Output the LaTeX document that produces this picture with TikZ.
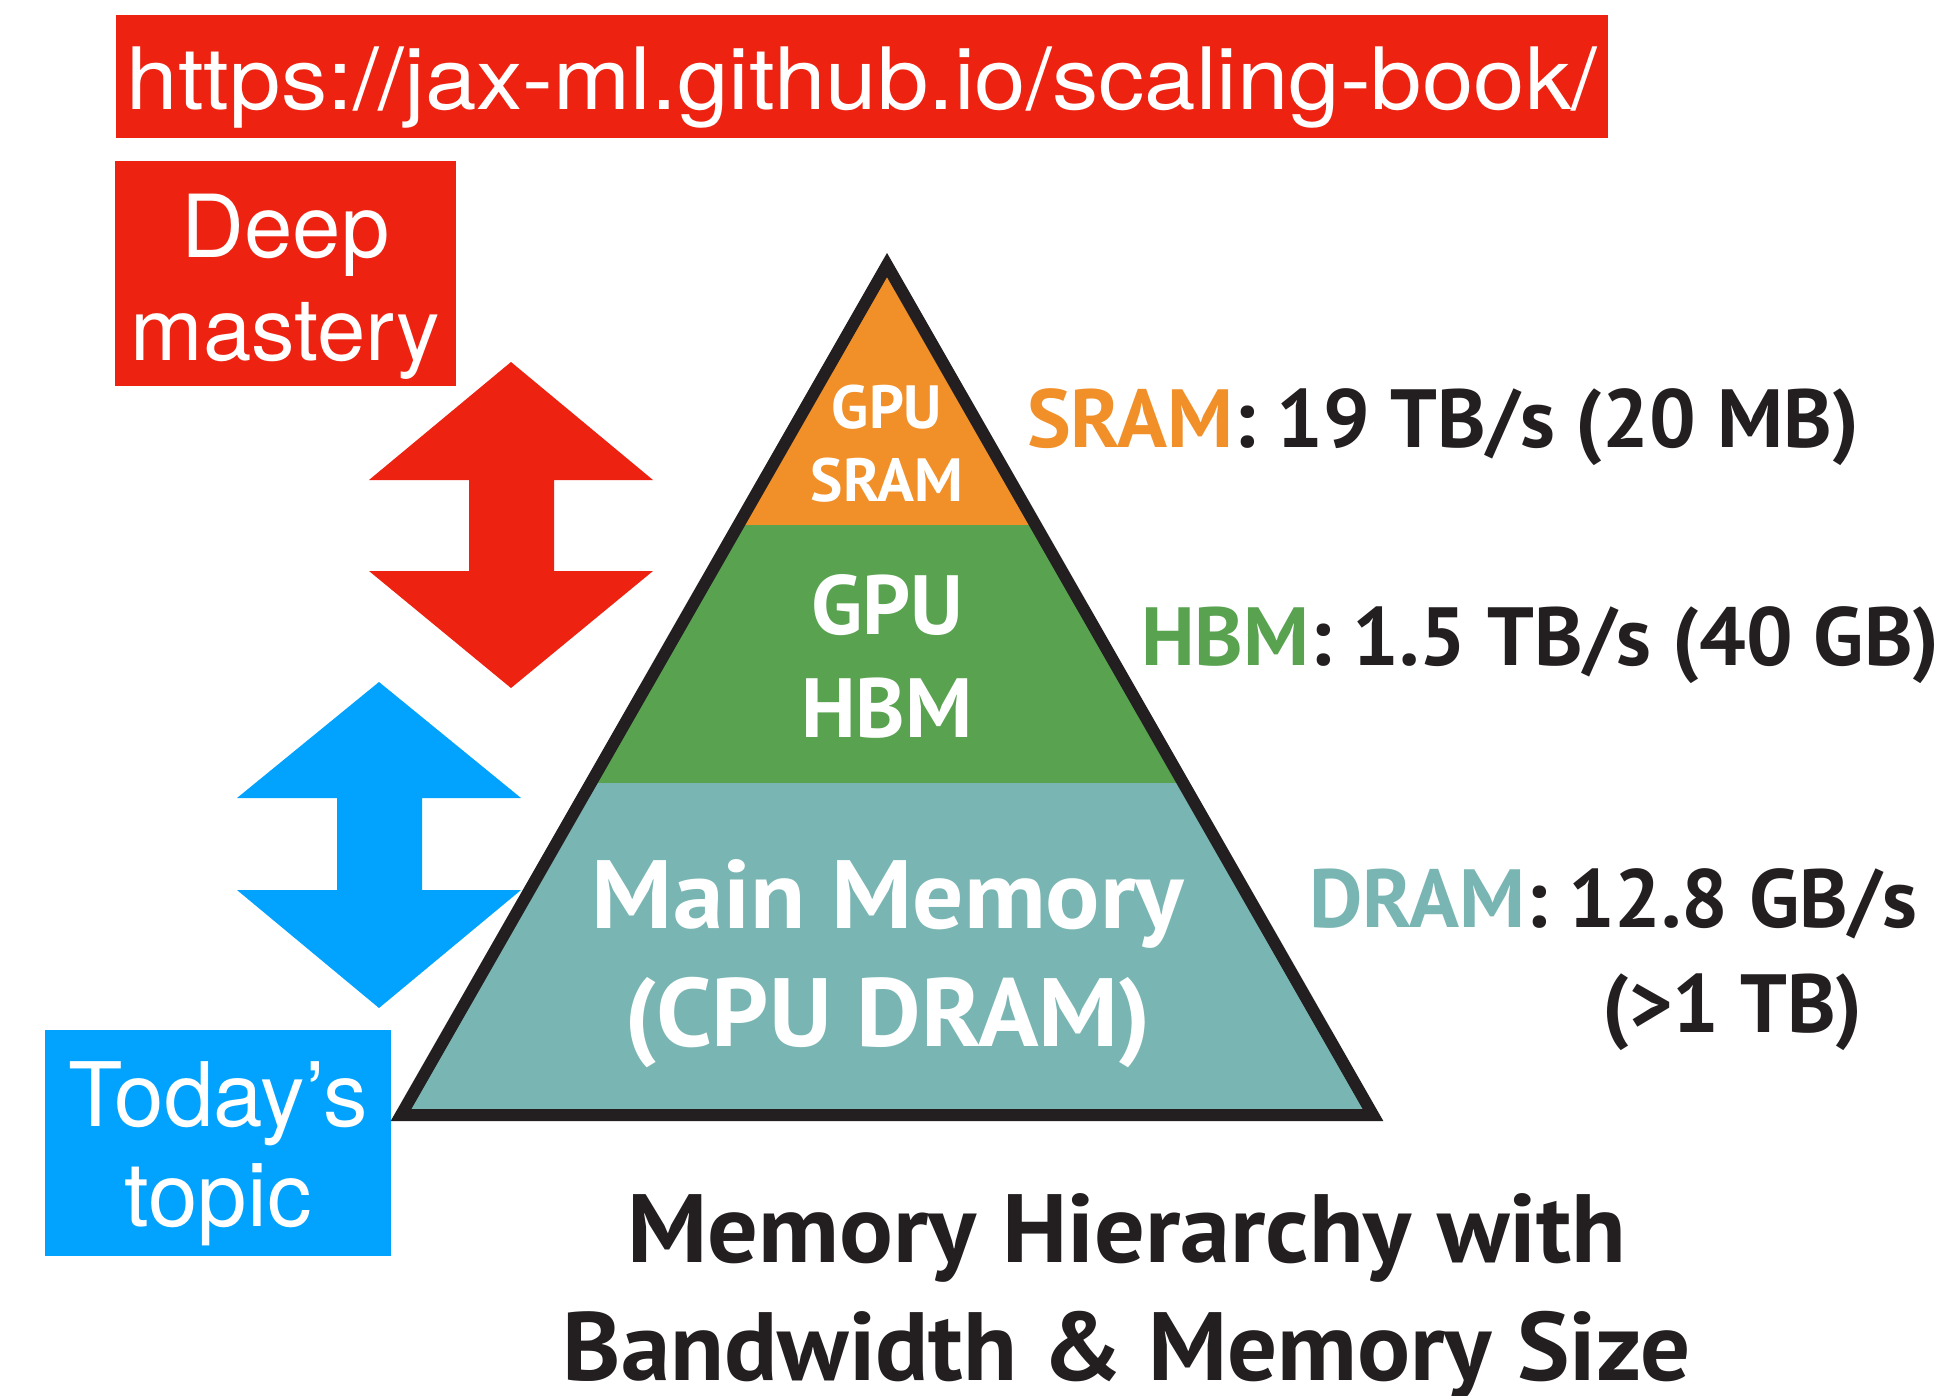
\documentclass[tikz,border=0pt]{standalone}
\usepackage{fontspec}
\setmainfont{PT Sans}
\newfontfamily\helv{TeX Gyre Heros}
\definecolor{boxred}{RGB}{238,34,17}
\definecolor{boxblue}{RGB}{2,163,254}
\definecolor{sramfill}{RGB}{241,144,41}
\definecolor{hbmfill}{RGB}{88,162,80}
\definecolor{dramfill}{RGB}{121,182,179}
\definecolor{ink}{RGB}{35,31,32}
\begin{document}
\begin{tikzpicture}[x=1pt,y=-1pt,
  boxnode/.style={inner sep=0pt, outer sep=0pt, anchor=north west},
  boxtext/.style={text=white, inner sep=0pt, align=center, font=\helv\fontsize{87}{103}\selectfont},
  pyrtext/.style={text=white, inner sep=0pt, align=center, font=\bfseries},
  sidetext/.style={text=ink, inner sep=0pt, font=\bfseries\fontsize{82.5}{105}\selectfont}]
\useasboundingbox (0,0) rectangle (1942,1395);
\fill[white] (0,0) rectangle (1942,1395);

% URL banner
\node[boxnode, fill=boxred, minimum width=1492pt, minimum height=123pt] (urlbox) at (116,15) {};
\node[text=white, inner sep=0pt, anchor=base, font=\helv\fontsize{86}{100}\selectfont] (url) at (urlbox.center |- 0,109) {\scalebox{1.076}[1]{https://jax-ml.github.io/scaling-book/}};

% Deep mastery box
\node[boxnode, fill=boxred, minimum width=341pt, minimum height=225pt] (deepbox) at (115,161) {};
\node[boxtext, anchor=north] (deep) at (deepbox.center |- 0,194) {Deep\\mastery};

% Today's topic box
\node[boxnode, fill=boxblue, minimum width=346pt, minimum height=226pt] (todaybox) at (45,1030) {};
\node[boxtext, anchor=north, font=\helv\fontsize{89}{100}\selectfont] (today) at (todaybox.center |- 0,1061) {Today’s\\topic};

% double arrows
\fill[boxred] (511,362) -- (653,480) -- (554,480) -- (554,571) -- (653,571) -- (511,688)
  -- (369,571) -- (469,571) -- (469,480) -- (369,480) -- cycle;
\fill[boxblue] (379,682) -- (521,798) -- (422,798) -- (422,890) -- (521,890) -- (379,1008)
  -- (237,890) -- (337,890) -- (337,798) -- (237,798) -- cycle;

% pyramid
\coordinate (apex) at (887,265);
\coordinate (bl) at (401,1115);
\coordinate (br) at (1373,1115);
\begin{scope}
  \clip (apex) -- (bl) -- (br) -- cycle;
  \fill[sramfill] (300,200) rectangle (1500,525);
  \fill[hbmfill] (300,525) rectangle (1500,783);
  \fill[dramfill] (300,783) rectangle (1500,1200);
\end{scope}
\draw[ink, line width=12pt, line join=miter] (apex) -- (bl) -- (br) -- cycle;

\node[pyrtext, anchor=north, font=\bfseries\fontsize{61}{73}\selectfont] (sram) at (887,385) {GPU\\SRAM};
\node[pyrtext, anchor=north, font=\bfseries\fontsize{84}{103}\selectfont] (hbm) at (887,574) {GPU\\HBM};
\node[pyrtext, anchor=north, font=\bfseries\fontsize{97}{118}\selectfont] (dram) at (888,859) {\scalebox{1.045}[1]{Main Memory}\\\scalebox{1.03}[1]{(CPU DRAM)}};

% side labels
\node[sidetext, anchor=base west] (sramlab) at (1027,447) {\textcolor{sramfill}{SRAM}: 19 TB/s (20 MB)};
\node[sidetext, anchor=base west] (hbmlab) at (1141,665) {\textcolor{hbmfill}{HBM}: 1.5 TB/s (40 GB)};
\node[sidetext, anchor=north west, align=left] (dramlab) at (1309,868) {\textcolor{dramfill}{DRAM}: 12.8 GB/s\\\hspace*{293pt}(>1 TB)};

% title
\node[inner sep=0pt, align=center, text=ink, anchor=north, font=\bfseries\fontsize{97}{118}\selectfont] (title) at (1127,1193) {\scalebox{1.035}[1]{Memory Hierarchy with}\\\scalebox{1.02}[1]{Bandwidth \& Memory Size}};
\end{tikzpicture}
\end{document}
